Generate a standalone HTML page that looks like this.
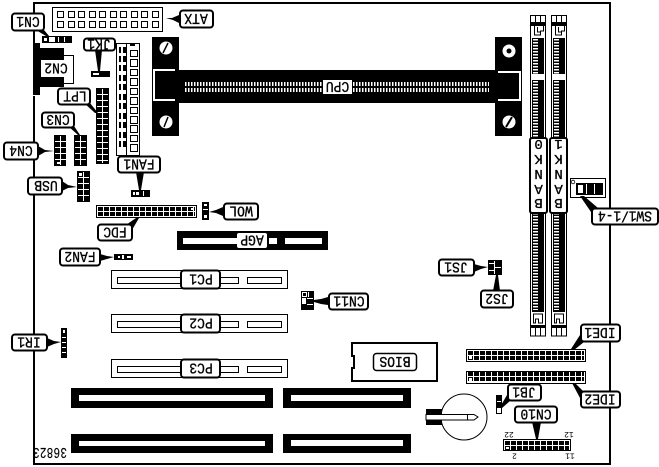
<!DOCTYPE html>
<html><head><meta charset="utf-8"><style>
html,body{margin:0;padding:0;background:#fff}
svg{display:block}
text{font-family:"Liberation Mono",monospace;font-size:13px;fill:#000;text-anchor:middle;stroke:#000;stroke-width:.3}
.l{fill:#fff;stroke:#000;stroke-width:2}
.o{fill:#fff;stroke:#000;stroke-width:1}
.n{fill:none;stroke:#000}
.w{fill:#fff}
.k{fill:#000}
</style></head><body>
<svg width="659" height="467" viewBox="0 0 659 467" xmlns="http://www.w3.org/2000/svg">
<defs>
<pattern id="g66" patternUnits="userSpaceOnUse" width="6" height="6"><rect width="6" height="6" fill="#000"/><rect x="5" width="1" height="6" fill="#fff"/><rect y="5" width="6" height="1" fill="#fff"/></pattern>
<pattern id="g65" patternUnits="userSpaceOnUse" width="6" height="5"><rect width="6" height="5" fill="#000"/><rect x="5" width="1" height="5" fill="#fff"/><rect y="4" width="6" height="1" fill="#fff"/></pattern>
<g id="mem" shape-rendering="crispEdges">
<rect class="o" x="530.5" y="15.5" width="15" height="320.5"/>
<path class="n" d="M535.5 15v7M540.5 15v7M535.5 328v8M540.5 328v8"/>
<rect class="k" x="531" y="22" width="14" height="4"/>
<path class="n" d="M534.5 26v9h6v-4h3v-5M537.5 27v5h3"/>
<rect class="k" x="532" y="38" width="12" height="36"/>
<rect class="k" x="532" y="80" width="12" height="58"/>
<rect class="k" x="532" y="213" width="12" height="99"/>
<line x1="535.5" y1="39" x2="535.5" y2="74" stroke="#fff" stroke-width="5" stroke-dasharray="1.5 1.5"/>
<line x1="535.5" y1="81" x2="535.5" y2="138" stroke="#fff" stroke-width="5" stroke-dasharray="1.5 1.5"/>
<line x1="535.5" y1="213" x2="535.5" y2="310" stroke="#fff" stroke-width="5" stroke-dasharray="1.5 1.5"/>
<path class="n" d="M533.5 314h9v9h-4v-4h-3v4h-2z"/>
<rect class="k" x="531" y="325" width="14" height="3"/>
</g>
</defs>

<!-- board -->
<g shape-rendering="crispEdges">
<path d="M34 96V464H610V3H34V43" fill="none" stroke="#000" stroke-width="2"/>

<!-- ATX -->
<rect class="o" x="52.5" y="7.5" width="110" height="24"/>
<path class="n" d="M57.5 11.5h6v6h-6zM68.5 11.5h6v6h-6zM78.5 11.5h6v6h-6zM89.5 11.5h6v6h-6zM99.5 11.5h6v6h-6zM110.5 11.5h6v6h-6zM120.5 11.5h6v6h-6zM131.5 11.5h6v6h-6zM141.5 11.5h6v6h-6zM152.5 11.5h6v6h-6zM57.5 21.5h6v6h-6zM68.5 21.5h6v6h-6zM78.5 21.5h6v6h-6zM89.5 21.5h6v6h-6zM99.5 21.5h6v6h-6zM110.5 21.5h6v6h-6zM120.5 21.5h6v6h-6zM131.5 21.5h6v6h-6zM141.5 21.5h6v6h-6zM152.5 21.5h6v6h-6z"/>

<!-- CN1, JK1 conn -->
<rect class="k" x="42" y="36" width="30" height="7"/>
<rect class="w" x="44" y="38" width="3" height="3"/><rect class="w" x="49" y="37" width="6" height="5"/><rect class="w" x="58" y="37" width="1" height="5"/><rect class="w" x="64" y="37" width="1" height="5"/>
<rect class="k" x="91" y="71" width="19" height="6"/>
<rect class="w" x="93" y="73" width="6" height="2"/>

<!-- CN2 -->
<path class="k" d="M33 43h7v5h24v4h0v35h-24v8h-7z"/>
<path class="n" d="M63 55.5h10.5v28H63"/>

<!-- LPT, CN3, CN4, USB -->
<rect class="k" x="96" y="88" width="13" height="76"/>
<rect transform="translate(97,89)" width="11" height="74" fill="url(#g66)"/>
<rect class="k" x="74" y="135" width="13" height="31"/>
<rect transform="translate(75,136)" width="11" height="29" fill="url(#g66)"/>
<rect class="k" x="54" y="135" width="12" height="31"/>
<rect transform="translate(55,136)" width="11" height="29" fill="url(#g66)"/>
<rect class="w" x="57" y="162" width="3" height="2"/>
<rect class="k" x="77" y="171" width="13" height="31"/>
<rect transform="translate(78,172)" width="11" height="29" fill="url(#g66)"/>
<rect class="w" x="79" y="173" width="3" height="3"/>

<!-- vertical header -->
<rect class="o" x="116.5" y="43.5" width="23" height="112"/>
<path class="n" d="M126.5 43v112"/>
<rect class="k" x="130" y="43" width="5" height="3"/>
<path class="n" d="M130.5 50.5h7v6h-7zM130.5 59.5h7v7h-7zM130.5 69.5h7v6h-7zM130.5 78.5h7v7h-7zM130.5 88.5h7v6h-7zM130.5 97.5h7v7h-7zM130.5 107.5h7v6h-7zM130.5 116.5h7v7h-7zM130.5 125.5h7v7h-7zM130.5 135.5h7v6h-7zM130.5 144.5h7v7h-7z"/>
<path class="k" d="M119 47h2v6h-2zM123 47h3v6h-3zM119 56h2v6h-2zM123 56h3v6h-3zM119 65h2v6h-2zM123 65h3v6h-3zM119 75h2v6h-2zM123 75h3v6h-3zM119 84h2v6h-2zM123 84h3v6h-3zM119 94h2v6h-2zM123 94h3v6h-3zM119 103h2v6h-2zM123 103h3v6h-3zM119 113h2v6h-2zM123 113h3v6h-3zM119 122h2v6h-2zM123 122h3v6h-3zM119 132h2v6h-2zM123 132h3v6h-3zM119 141h2v6h-2zM123 141h3v6h-3z"/>

<!-- FAN1 conn -->
<rect class="k" x="131" y="190" width="19" height="7"/>
<rect class="w" x="133" y="192" width="2" height="3"/><rect class="w" x="136" y="192" width="3" height="3"/><rect class="w" x="143" y="191" width="1" height="5"/>

<!-- FDC -->
<rect class="o" x="96.5" y="205.5" width="100" height="12"/>
<rect transform="translate(98,207)" width="97" height="10" fill="url(#g65)"/>
<rect class="w" x="191" y="208" width="3" height="2"/>

<!-- WOL conn -->
<rect class="k" x="202" y="202" width="7" height="18"/>
<rect class="w" x="204" y="204" width="3" height="2"/><rect class="w" x="203" y="209" width="5" height="1"/><rect class="w" x="204" y="215" width="3" height="3"/>

<!-- AGP -->
<rect class="k" x="177" y="231" width="151" height="19"/>
<rect class="w" x="183" y="238" width="54" height="6"/>
<rect class="w" x="269" y="238" width="8" height="6"/>
<rect class="w" x="285" y="238" width="37" height="6"/>

<!-- FAN2 conn -->
<rect class="k" x="114" y="254" width="19" height="6"/>
<rect class="w" x="118" y="256" width="2" height="2"/><rect class="w" x="122" y="255" width="2" height="4"/><rect class="w" x="127" y="256" width="4" height="2"/>

<!-- PCI -->
<rect class="o" x="111.5" y="270.5" width="176" height="18"/>
<rect class="o" x="117.5" y="277.5" width="64" height="6"/><rect class="o" x="218.5" y="277.5" width="20" height="6"/><rect class="o" x="247.5" y="277.5" width="34" height="6"/>
<rect class="o" x="111.5" y="314.5" width="176" height="18"/>
<rect class="o" x="117.5" y="321.5" width="64" height="6"/><rect class="o" x="218.5" y="321.5" width="20" height="6"/><rect class="o" x="247.5" y="321.5" width="34" height="6"/>
<rect class="o" x="111.5" y="359.5" width="176" height="18"/>
<rect class="o" x="117.5" y="366.5" width="64" height="6"/><rect class="o" x="218.5" y="366.5" width="20" height="6"/><rect class="o" x="247.5" y="366.5" width="34" height="6"/>

<!-- ISA -->
<rect class="k" x="71" y="388" width="202" height="20"/><rect class="w" x="79" y="395" width="186" height="6"/>
<rect class="k" x="71" y="434" width="202" height="19"/><rect class="w" x="79" y="441" width="186" height="5"/>
<rect class="k" x="283" y="388" width="128" height="20"/><rect class="w" x="291" y="395" width="112" height="6"/>
<rect class="k" x="283" y="434" width="128" height="19"/><rect class="w" x="291" y="440" width="112" height="6"/>

<!-- IR1 conn -->
<rect class="k" x="61" y="328" width="6" height="30"/>
<rect class="w" x="63" y="330" width="2" height="3"/><rect class="w" x="62" y="337" width="4" height="1"/><rect class="w" x="62" y="342" width="4" height="1"/><rect class="w" x="62" y="347" width="4" height="1"/><rect class="w" x="62" y="352" width="4" height="1"/>

<!-- CN11 conn -->
<rect class="k" x="301" y="291" width="13" height="19"/>
<rect class="w" x="302" y="292" width="5" height="5"/><rect class="k" x="303" y="293" width="3" height="3"/><rect class="w" x="308" y="292" width="1" height="5"/><rect class="w" x="302" y="298" width="4" height="6"/><rect class="w" x="307" y="298" width="6" height="1"/><rect class="w" x="307" y="304" width="6" height="1"/>

<!-- BIOS -->
<path class="n" stroke-width="2" d="M352 356v-13h85v38h-85v-13h2v-12z" />

<!-- IDE -->
<rect class="o" x="466.5" y="349.5" width="119" height="12"/>
<rect transform="translate(468,351)" width="116" height="10" fill="url(#g65)"/>
<rect class="w" x="469" y="356" width="3" height="3"/>
<rect class="o" x="466.5" y="371.5" width="119" height="12"/>
<rect transform="translate(468,372)" width="116" height="10" fill="url(#g65)"/>
<rect class="w" x="469" y="378" width="3" height="3"/>

<!-- JB1 conn -->
<rect class="k" x="496" y="395" width="6" height="19"/>
<rect class="w" x="497" y="401" width="4" height="1"/><rect class="w" x="497" y="408" width="4" height="5"/>

<!-- CN10 conn -->
<rect class="o" x="503.5" y="439.5" width="67" height="11"/>
<rect transform="translate(505,441)" width="64" height="9" fill="url(#g65)"/>
<rect class="w" x="506" y="447" width="3" height="2"/>

<!-- SW -->
<rect class="o" x="570.5" y="178.5" width="35" height="19"/>
<rect class="k" x="576" y="183" width="27" height="12"/>
<rect class="w" x="578" y="185" width="5" height="8"/>
<rect class="w" x="586" y="184" width="1" height="10"/><rect class="w" x="594" y="184" width="1" height="10"/>

<!-- JS conn -->
<rect class="k" x="488" y="260" width="14" height="15"/>
<rect class="w" x="494" y="261" width="1" height="13"/><rect class="w" x="495" y="267" width="6" height="1"/><rect class="w" x="489" y="263" width="5" height="1"/><rect class="w" x="489" y="270" width="5" height="1"/>

<!-- CPU -->
<rect class="k" x="152" y="37" width="27" height="99"/>
<rect class="k" x="495" y="37" width="27" height="99"/>
<rect class="k" x="179" y="70" width="316" height="33"/>
<path d="M175 70H154V100H175" fill="none" stroke="#fff" stroke-width="2"/>
<path d="M498 72H520V100H498" fill="none" stroke="#fff" stroke-width="2"/>
<line x1="185" y1="84" x2="489" y2="84" stroke="#fff" stroke-width="4" stroke-dasharray="1.5 1.5"/>
<line x1="185" y1="90" x2="489" y2="90" stroke="#fff" stroke-width="4" stroke-dasharray="1.5 1.5"/>
<rect class="w" x="323" y="80" width="29" height="14"/>
</g>

<circle cx="166" cy="48" r="6.5" fill="#fff"/><path d="M168 43l-5 10" stroke="#000" stroke-width="1.5"/>
<circle cx="166" cy="122" r="6.5" fill="#fff"/><path d="M168 117l-4 10" stroke="#000" stroke-width="1.5"/>
<circle cx="509" cy="51" r="6.5" fill="#fff"/><circle cx="509" cy="51" r="2.5" fill="#000"/>
<circle cx="509" cy="122" r="6.5" fill="#fff"/><path d="M512 117l-6 10" stroke="#000" stroke-width="2"/>

<!-- memory -->
<use href="#mem"/>
<use href="#mem" x="21"/>

<!-- battery -->
<circle cx="464" cy="417" r="23" fill="#fff" stroke="#000" stroke-width="1"/>
<rect x="426" y="409" width="16" height="16" fill="#000" shape-rendering="crispEdges"/>
<path d="M426 414.5h48l4 2.5-4 3h-48z" fill="#fff" stroke="#000" stroke-width="1"/>
<path d="M467.5 414v6" stroke="#000"/>

<circle cx="573" cy="182" r="1.8" fill="#fff" stroke="#000" stroke-width=".8"/>

<!-- pointers -->
<g fill="#000">
<polygon points="179,15 179,23 173,20 166,18 172,18"/>
<polygon points="36,30 44,30 49,36 46,36"/>
<polygon points="95,50 102,50 100,71 98,71"/>
<polygon points="84,103 90,103 98,113 95,113"/>
<polygon points="68,126 74,126 80,135 78,135"/>
<polygon points="38,146 38,156 45,152 54,151 45,150"/>
<polygon points="136,172 144,172 141,190 139,190"/>
<polygon points="62,181 62,191 68,188 77,187 68,185"/>
<polygon points="126,225 132,230 139,218 136,218"/>
<polygon points="223,207 223,216 216,213 209,212 216,210"/>
<polygon points="100,254 100,261 107,259 114,257 107,256"/>
<polygon points="47,338 47,347 54,344 61,342 54,341"/>
<polygon points="314,300 314,302 321,304 328,305 328,297 321,299"/>
<polygon points="474,264 474,272 481,269 488,267 481,266"/>
<polygon points="493,291 500,291 498,275 496,275"/>
<polygon points="580,335 584,342 574,350 571,349"/>
<polygon points="572,383 575,383 584,392 580,398"/>
<polygon points="507,395 510,401 502,408 500,407"/>
<polygon points="532,422 541,422 538,439 536,439"/>
<polygon points="580,196 584,196 598,208 591,212"/>
</g>

<!-- labels -->
<g>
<rect class="l" x="180" y="10.5" width="33" height="17" rx="3"/>
<rect class="l" x="12" y="13.5" width="32" height="17" rx="3"/>
<rect class="l" x="84" y="38.5" width="31" height="12" rx="3"/>
<rect class="w" x="41" y="60" width="31" height="17"/>
<rect class="l" x="58" y="88.5" width="32" height="16" rx="3"/>
<rect class="l" x="42" y="112.5" width="32" height="15" rx="3"/>
<rect class="l" x="4" y="142.5" width="34" height="17" rx="3"/>
<rect class="l" x="118" y="156.5" width="42" height="16" rx="3"/>
<rect class="l" x="28" y="177.5" width="34" height="17" rx="3"/>
<rect class="l" x="98" y="224.5" width="34" height="16" rx="3"/>
<rect class="l" x="224" y="203.5" width="34" height="16" rx="3"/>
<rect x="237" y="233" width="30" height="15" rx="2" fill="#fff"/>
<rect class="l" x="60" y="248.5" width="40" height="17" rx="3"/>
<rect class="l" x="181" y="270.5" width="39" height="18" rx="3"/>
<rect class="l" x="181" y="314.5" width="39" height="18" rx="3"/>
<rect class="l" x="181" y="359.5" width="39" height="18" rx="3"/>
<rect class="l" x="12" y="334.5" width="35" height="16" rx="3"/>
<rect class="l" x="329" y="293.5" width="39" height="16" rx="3"/>
<rect x="373.5" y="353.5" width="43" height="17" rx="3" fill="#fff" stroke="#000" stroke-width="1.5"/>
<rect class="l" x="581" y="324.5" width="39" height="17" rx="3"/>
<rect class="l" x="581" y="391.5" width="39" height="16" rx="3"/>
<rect class="l" x="508" y="384.5" width="33" height="16" rx="3"/>
<rect class="l" x="515" y="406.5" width="42" height="16" rx="3"/>
<rect class="l" x="592" y="208.5" width="66" height="16" rx="3"/>
<rect class="l" x="439" y="259.5" width="35" height="16" rx="3"/>
<rect class="l" x="481" y="290.5" width="32" height="17" rx="3"/>
<rect class="l" x="530" y="138" width="17" height="75" rx="2"/>
<rect class="l" x="550" y="138" width="17" height="75" rx="2"/>
</g>

<g>
<text transform="translate(196,19) rotate(180) scale(1,1.15)" y="4.3">ATX</text>
<text transform="translate(28,22) rotate(180) scale(1,1.15)" y="4.3">CN1</text>
<text transform="translate(99,44.5) rotate(180) scale(1,1.15)" y="4.3">JK1</text>
<text transform="translate(56,68.5) rotate(180) scale(1,1.15)" y="4.3">CN2</text>
<text transform="translate(75,96.5) rotate(180) scale(1,1.15)" y="4.3">LPT</text>
<text transform="translate(58,120) rotate(180) scale(1,1.15)" y="4.3">CN3</text>
<text transform="translate(21,151) rotate(180) scale(1,1.15)" y="4.3">CN4</text>
<text transform="translate(139,164.5) rotate(180) scale(1,1.15)" y="4.3">FAN1</text>
<text transform="translate(46,186) rotate(180) scale(1,1.15)" y="4.3">USB</text>
<text transform="translate(115,232.5) rotate(180) scale(1,1.15)" y="4.3">FDC</text>
<text transform="translate(241,211.5) rotate(180) scale(1,1.15)" y="4.3">WOL</text>
<text transform="translate(252,240.5) rotate(180) scale(1,1.15)" y="4.3">AGP</text>
<text transform="translate(80,257) rotate(180) scale(1,1.15)" y="4.3">FAN2</text>
<text transform="translate(201,279.5) rotate(180) scale(1,1.15)" y="4.3">PC1</text>
<text transform="translate(201,323.5) rotate(180) scale(1,1.15)" y="4.3">PC2</text>
<text transform="translate(201,368.5) rotate(180) scale(1,1.15)" y="4.3">PC3</text>
<text transform="translate(29,342.5) rotate(180) scale(1,1.15)" y="4.3">IR1</text>
<text transform="translate(349,301.5) rotate(180) scale(1,1.15)" y="4.3">CN11</text>
<text transform="translate(395,362) rotate(180) scale(1,1.15)" y="4.3">BIOS</text>
<text transform="translate(600,333) rotate(180) scale(1,1.15)" y="4.3">IDE1</text>
<text transform="translate(600,399.5) rotate(180) scale(1,1.15)" y="4.3">IDE2</text>
<text transform="translate(524,392.5) rotate(180) scale(1,1.15)" y="4.3">JB1</text>
<text transform="translate(536,414.5) rotate(180) scale(1,1.15)" y="4.3">CN10</text>
<text transform="translate(625,216.5) rotate(180) scale(1,1.15)" y="4.3" textLength="54">SW1/1-4</text>
<text transform="translate(456,267.5) rotate(180) scale(1,1.15)" y="4.3">JS1</text>
<text transform="translate(497,299) rotate(180) scale(1,1.15)" y="4.3">JS2</text>
<text transform="translate(337.5,87) rotate(180) scale(1,1.15)" y="4.3">CPU</text>
<text transform="translate(50,452.5) rotate(180) scale(1,1.3)" y="3.6" textLength="34" style="font-size:11px;stroke-width:.1">36823</text>
<text transform="translate(538.5,199) rotate(180)" x="0 0 0 0 0 0" y="0 14 29 44 50 59" style="font-size:14px">BANK 0</text>
<text transform="translate(558.5,199) rotate(180)" x="0 0 0 0 0 0" y="0 14 29 44 50 59" style="font-size:14px">BANK 1</text>
<text transform="translate(509,434.5) rotate(180)" y="2.5" style="font-size:8px;stroke-width:0">22</text>
<text transform="translate(569,434.5) rotate(180)" y="2.5" style="font-size:8px;stroke-width:0">12</text>
<text transform="translate(514.5,456) rotate(180)" y="2.5" style="font-size:8px;stroke-width:0">2</text>
<text transform="translate(570,456) rotate(180)" y="2.5" style="font-size:8px;stroke-width:0">11</text>
</g>
</svg>
</body></html>
